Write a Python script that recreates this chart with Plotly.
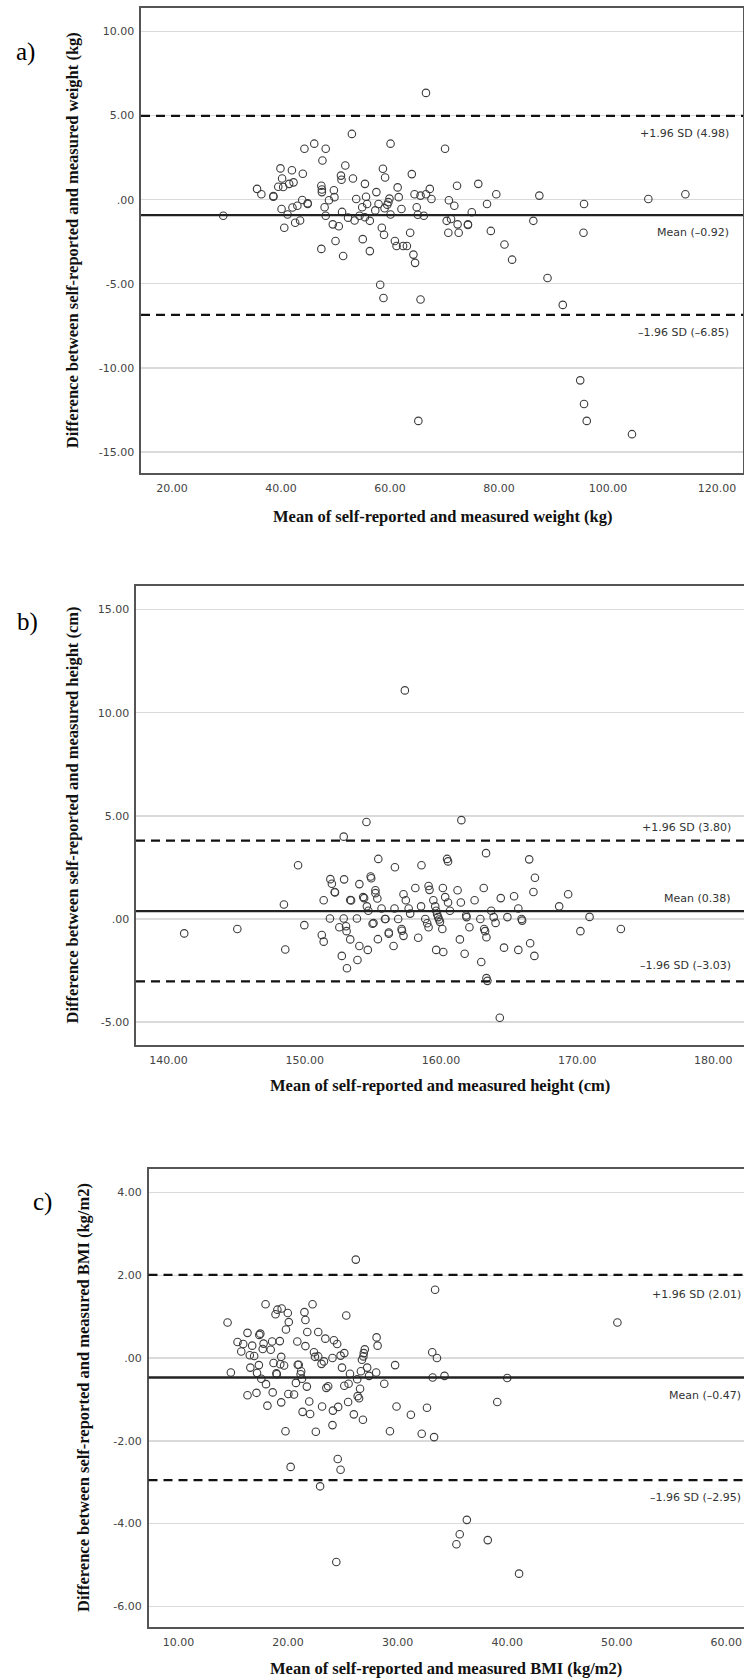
import plotly.graph_objects as go

# ---------------- Panel a: weight ----------------
wt_mean = [29.4, 35.6, 36.4, 38.6, 38.6, 39.5, 39.9, 40.2, 40.4, 40.1, 40.6, 41.2, 41.5, 42.0, 42.3,
           42.1, 43.0, 42.6, 43.5, 44.0, 44.3, 43.9, 44.9, 44.9, 46.1, 47.4, 47.4, 47.5, 47.5, 47.6,
           48.2, 48.0, 48.2, 48.8, 49.7, 49.8, 49.5, 50.0, 50.6, 51.0, 51.1, 51.2, 51.4, 51.8, 52.3,
           53.0, 53.2, 53.5, 53.8, 54.4, 54.9, 55.0, 55.4, 55.6, 55.8, 55.4, 56.3, 56.3, 57.3, 57.5,
           57.9, 58.5, 58.2, 58.7, 58.9, 58.8, 59.0, 59.1, 59.5, 59.7, 59.9, 60.1, 60.1, 60.9, 61.4,
           61.6, 61.2, 62.1, 62.4, 63.1, 63.7, 64.0, 64.3, 64.6, 64.5, 64.9, 65.1, 65.2, 65.6, 65.6,
           66.2, 66.6, 66.6, 67.3, 67.6, 70.1, 70.4, 70.8, 70.7, 71.2, 71.8, 72.3, 72.4, 72.6, 74.3,
           74.3, 75.0, 76.2, 77.8, 78.5, 79.5, 81.0, 82.4, 86.3, 87.4, 88.9, 91.7, 94.9, 95.6, 95.5,
           95.6, 96.1, 104.4, 107.4, 114.2]
wt_diff = [-0.96, 0.64, 0.32, 0.21, 0.17, 0.77, 1.86, 1.26, 0.75, -0.56, -1.67, -0.88, 0.94, 1.75, 1.03,
           -0.47, -0.36, -1.37, -1.24, 1.54, 3.03, -0.02, -0.21, -0.25, 3.33, -2.93, 0.83, 0.60, 0.45, 2.33,
           3.03, -0.45, -0.96, -0.04, 0.56, 0.15, -1.47, -2.46, -1.58, 1.43, 1.18, -0.73, -3.35, 2.03, -1.07,
           3.91, 1.26, -1.24, 0.04, -0.96, -0.45, -2.35, 0.94, 0.17, -0.26, -1.05, -1.26, -3.06, -0.64, 0.45,
           -0.26, -1.67, -5.06, 1.84, -2.09, -5.85, -0.51, 1.32, -0.30, -0.15, 0.06, 3.33, -0.88, -2.46, 0.73,
           0.15, -2.76, -0.56, -2.76, -2.76, -1.97, 1.52, -3.27, -3.76, 0.32, -0.45, -0.90, -13.16, 0.24, -5.94,
           -0.96, 6.35, 0.32, 0.64, 0.04, 3.03, -1.26, -0.04, -1.97, -1.15, -0.36, 0.83, -1.47, -1.97, -1.47,
           -1.51, -0.75, 0.94, -0.26, -1.86, 0.32, -2.67, -3.57, -1.26, 0.24, -4.66, -6.26, -10.75, -0.26, -1.97,
           -12.16, -13.16, -13.95, 0.04, 0.32]
wt_bias, wt_upper, wt_lower = -0.92, 4.98, -6.85
wt_xticks = [20, 40, 60, 80, 100, 120]
wt_xtext = ["20.00", "40.00", "60.00", "80.00", "100.00", "120.00"]
wt_yticks = [10, 5, 0, -5, -10, -15]
wt_ytext = ["10.00", "5.00", ".00", "-5.00", "-10.00", "-15.00"]

# ---------------- Panel b: height ----------------
ht_mean = [141.15, 145.05, 148.47, 148.57, 149.51, 149.97, 151.25, 151.39, 151.39, 151.85, 151.88, 151.99,
           152.20, 152.22, 152.54, 152.72, 152.86, 152.89, 152.86, 153.03, 153.07, 153.10, 153.34, 153.34,
           153.40, 153.83, 153.87, 154.01, 154.01, 154.29, 154.36, 154.53, 154.56, 154.63, 154.67, 154.84,
           154.88, 154.98, 155.05, 155.19, 155.19, 155.33, 155.37, 155.40, 155.64, 155.89, 155.93, 156.17,
           156.17, 156.52, 156.59, 156.62, 156.86, 157.11, 157.14, 157.25, 157.25, 157.35, 157.42, 157.63,
           157.74, 158.12, 158.33, 158.54, 158.57, 158.85, 158.99, 159.09, 159.16, 159.09, 159.44, 159.58,
           159.65, 159.72, 159.79, 159.86, 159.93, 159.65, 160.14, 160.10, 160.17, 160.31, 160.45, 160.52,
           160.52, 160.66, 161.22, 161.39, 161.46, 161.50, 161.74, 161.85, 161.88, 162.09, 162.47, 162.89,
           162.96, 163.14, 163.17, 163.24, 163.31, 163.34, 163.34, 163.41, 163.69, 163.87, 164.01, 164.39,
           164.32, 164.63, 164.88, 165.37, 165.68, 165.68, 165.92, 165.96, 166.48, 166.55, 166.79, 166.86,
           166.90, 168.68, 169.34, 170.24, 170.91, 173.21]
ht_diff = [-0.70, -0.49, 0.70, -1.48, 2.60, -0.30, -0.78, 0.91, -1.10, 0.02, 1.93, 1.71,
           1.31, 1.28, -0.40, -1.79, 0.02, 1.92, 3.99, -0.35, -0.59, -2.39, -0.99, 0.92,
           0.90, 0.02, -1.99, 1.69, -1.31, 1.06, 1.01, 4.70, 0.61, -1.50, 0.40, 2.06,
           1.97, -0.23, -0.20, 1.39, 1.25, 0.99, -0.98, 2.91, 0.51, 0.00, 0.00, -0.66,
           -0.72, -1.31, 0.51, 2.51, 0.00, -0.49, -0.57, -0.82, 1.20, 11.08, 0.91, 0.51,
           0.26, 1.50, -0.91, 0.61, 2.60, 0.00, -0.21, 1.60, 1.41, -0.40, 0.91, 0.61,
           0.40, 0.23, 0.09, -0.03, -0.14, -1.50, 1.50, -0.49, -1.60, 1.06, 2.91, 2.79,
           0.80, 0.40, 1.39, -0.99, 0.80, 4.79, -1.69, 0.17, 0.09, -0.40, 0.91, 0.00,
           -2.09, 1.50, -0.49, -0.59, 3.19, -0.89, -2.87, -3.00, 0.40, 0.09, -0.19, 1.01,
           -4.79, -1.39, 0.09, 1.10, 0.51, -1.50, 0.00, -0.08, 2.89, -1.18, 1.31, -1.79,
           2.00, 0.61, 1.20, -0.59, 0.10, -0.49]
ht_bias, ht_upper, ht_lower = 0.38, 3.80, -3.03
ht_xticks = [140, 150, 160, 170, 180]
ht_xtext = ["140.00", "150.00", "160.00", "170.00", "180.00"]
ht_yticks = [15, 10, 5, 0, -5]
ht_ytext = ["15.00", "10.00", "5.00", ".00", "-5.00"]

# ---------------- Panel c: BMI ----------------
bmi_mean = [14.47, 14.77, 15.38, 15.72, 15.90, 16.29, 16.29, 16.50, 16.55, 16.72, 16.90, 17.11, 17.16,
            17.33, 17.37, 17.46, 17.55, 17.68, 17.76, 17.94, 17.98, 18.11, 18.41, 18.54, 18.59, 18.67,
            18.85, 18.93, 19.02, 18.97, 19.24, 19.28, 19.37, 19.37, 19.41, 19.63, 19.76, 19.80, 19.97,
            20.06, 20.02, 20.23, 20.54, 20.71, 20.84, 20.88, 20.97, 21.14, 21.19, 21.27, 21.32, 21.49,
            21.58, 21.58, 21.71, 21.75, 21.93, 22.01, 22.23, 22.36, 22.45, 22.53, 22.75, 22.75, 22.92,
            23.05, 23.10, 23.27, 23.40, 23.49, 23.66, 24.05, 24.09, 24.05, 24.18, 24.40, 24.48, 24.53,
            24.57, 24.79, 24.79, 24.92, 25.13, 25.13, 25.31, 25.52, 25.48, 25.65, 26.00, 26.18, 26.31,
            26.35, 26.48, 26.57, 26.65, 26.74, 26.83, 26.87, 26.91, 27.00, 27.22, 27.39, 28.04, 28.08,
            28.17, 28.78, 29.30, 29.77, 29.90, 31.21, 32.20, 32.68, 33.16, 33.20, 33.33, 33.42, 33.59,
            34.28, 35.37, 35.67, 36.32, 38.23, 39.10, 40.01, 41.09, 50.07]
bmi_diff = [0.86, -0.35, 0.39, 0.16, 0.34, 0.61, -0.90, 0.07, -0.23, 0.30, 0.05, -0.84, -0.36,
            -0.17, 0.56, 0.59, -0.50, 0.22, 0.35, 1.30, -0.63, -1.15, 0.20, 0.40, -0.83, -0.12,
            1.06, -0.37, 1.17, -0.39, 0.41, -0.15, 0.03, -1.07, 1.20, -0.18, -1.77, 0.69, 1.09,
            0.87, -0.87, -2.63, -0.88, -0.60, 0.40, -0.16, -0.16, -0.39, -0.32, -0.50, -1.30, 1.11,
            0.92, 0.29, -0.69, 0.63, -1.05, -1.35, 1.30, 0.14, 0.03, -1.78, 0.63, 0.04, -3.10,
            -0.14, -1.17, -0.08, 0.47, -0.72, -0.68, 0.00, -1.27, -1.62, 0.43, -4.93, 0.34, -2.44,
            -1.18, -2.70, 0.06, -0.23, 0.12, -0.67, 1.03, -0.62, -1.06, -0.38, -1.36, 2.38, -0.51,
            -0.92, -0.97, -0.74, -0.32, -0.04, -1.49, 0.04, 0.12, 0.21, -0.23, -0.43, -0.35, 0.50,
            0.30, -0.62, -1.77, -0.17, -1.17, -1.37, -1.83, -1.20, 0.14, -0.47, -1.91, 1.65, 0.00,
            -0.43, -4.50, -4.26, -3.91, -4.40, -1.06, -0.48, -5.21, 0.86]
bmi_bias, bmi_upper, bmi_lower = -0.47, 2.01, -2.95
bmi_xticks = [10, 20, 30, 40, 50, 60]
bmi_xtext = ["10.00", "20.00", "30.00", "40.00", "50.00", "60.00"]
bmi_yticks = [4, 2, 0, -2, -4, -6]
bmi_ytext = ["4.00", "2.00", ".00", "-2.00", "-4.00", "-6.00"]

W, H = 744, 1680


def fx(px):
    return min(1.0, max(0.0, px / W))


def fy(py):
    return min(1.0, max(0.0, 1 - py / H))


def ax(px):
    return px / W


def ay(py):
    return 1 - py / H


TICK_FONT = dict(family="DejaVu Sans", size=11, color="#444444")
TITLE_FONT = dict(family="Liberation Serif", size=16.5, color="#111111")
FRAME = "#555555"
GRID = "#dadada"

panels = [
    dict(k="", x=wt_mean, y=wt_diff, bias=wt_bias, up=wt_upper, lo=wt_lower,
         xt=wt_xticks, xtt=wt_xtext, yt=wt_yticks, ytt=wt_ytext,
         xdom=[fx(141), fx(743)], ydom=[fy(473), fy(7.5)],
         xr=[14.31, 124.77], yr=[-16.26, 11.43], mirror_y=True,
         xtitle="Mean of self-reported and measured weight (kg)",
         ytitle="Difference between self-reported and measured weight (kg)",
         letter="a)", letter_xy=(25, 52), ytitle_x=72, xtitle_y=516,
         lab_x=0.980, shifts=(-17.5, -17.5, -17.5),
         labels=("+1.96 SD (4.98)", "Mean (\u20130.92)", "\u20131.96 SD (\u20136.85)")),
    dict(k="2", x=ht_mean, y=ht_diff, bias=ht_bias, up=ht_upper, lo=ht_lower,
         xt=ht_xticks, xtt=ht_xtext, yt=ht_yticks, ytt=ht_ytext,
         xdom=[fx(136), 1.0], ydom=[fy(1045), fy(586)],
         xr=[137.61, 182.25], yr=[-6.11, 16.14], mirror_y=False,
         xtitle="Mean of self-reported and measured height (cm)",
         ytitle="Difference between self-reported and measured height (cm)",
         letter="b)", letter_xy=(27, 622), ytitle_x=72, xtitle_y=1085,
         lab_x=0.982, shifts=(13, 13, 16),
         labels=("+1.96 SD (3.80)", "Mean (0.38)", "\u20131.96 SD (\u20133.03)")),
    dict(k="3", x=bmi_mean, y=bmi_diff, bias=bmi_bias, up=bmi_upper, lo=bmi_lower,
         xt=bmi_xticks, xtt=bmi_xtext, yt=bmi_yticks, ytt=bmi_ytext,
         xdom=[fx(148.5), 1.0], ydom=[fy(1627), fy(1169)],
         xr=[7.25, 61.63], yr=[-6.50, 4.57], mirror_y=False,
         xtitle="Mean of self-reported and measured BMI (kg/m2)",
         ytitle="Difference between self-reported and measured BMI (kg/m2)",
         letter="c)", letter_xy=(42, 1202), ytitle_x=83, xtitle_y=1668,
         lab_x=0.999, shifts=(-20, -17.5, -17),
         labels=("+1.96 SD (2.01)", "Mean (\u20130.47)", "\u20131.96 SD (\u20132.95)")),
]

fig = go.Figure()
shapes, annotations = [], []
layout = dict(width=W, height=H, margin=dict(l=0, r=0, t=0, b=0),
              paper_bgcolor="white", plot_bgcolor="white", showlegend=False)

for p in panels:
    k = p["k"]
    xa, ya = "x" + k, "y" + k
    fig.add_trace(go.Scatter(
        x=p["x"], y=p["y"], mode="markers", xaxis=xa, yaxis=ya,
        marker=dict(symbol="circle-open", size=7.5, color="#3c3c3c", line=dict(width=1.1)),
        hoverinfo="skip"))
    layout["xaxis" + k] = dict(
        domain=p["xdom"], anchor=ya, range=p["xr"], showgrid=False, zeroline=False,
        tickmode="array", tickvals=p["xt"], ticktext=p["xtt"], ticks="",
        tickfont=TICK_FONT, showline=True, linecolor=FRAME, linewidth=1.6, mirror=True,
        ticklabelstandoff=4, fixedrange=True)
    layout["yaxis" + k] = dict(
        domain=p["ydom"], anchor=xa, range=p["yr"], showgrid=True, gridcolor=GRID, gridwidth=1.5,
        zeroline=False, tickmode="array", tickvals=p["yt"], ticktext=p["ytt"], ticks="",
        tickfont=TICK_FONT, showline=True, linecolor=FRAME, linewidth=1.6,
        mirror=p["mirror_y"], ticklabelstandoff=3, fixedrange=True)
    # limits of agreement and mean difference
    for val, dash, wdt, col in [(p["up"], "9px,6px", 2.2, "#111111"),
                                (p["bias"], "solid", 2.4, "#222222"),
                                (p["lo"], "9px,6px", 2.2, "#111111")]:
        shapes.append(dict(type="line", xref=xa + " domain", yref=ya, x0=0, x1=1, y0=val, y1=val,
                           line=dict(color=col, width=wdt, dash=dash), layer="above"))
    for val, txt, sh in zip([p["up"], p["bias"], p["lo"]], p["labels"], p["shifts"]):
        annotations.append(dict(xref=xa + " domain", yref=ya, x=p["lab_x"], y=val, text=txt,
                                showarrow=False, xanchor="right", yanchor="middle", yshift=sh,
                                font=dict(family="DejaVu Sans", size=11, color="#333333")))
    # panel letter
    lx, ly = p["letter_xy"]
    annotations.append(dict(xref="paper", yref="paper", x=ax(lx), y=ay(ly), text=p["letter"],
                            showarrow=False, xanchor="center", yanchor="middle",
                            font=dict(family="Liberation Serif", size=25, color="black")))
    # axis titles
    annotations.append(dict(xref=xa + " domain", yref="paper", x=0.5, y=ay(p["xtitle_y"]),
                            text="<b>" + p["xtitle"] + "</b>", showarrow=False,
                            xanchor="center", yanchor="middle", font=TITLE_FONT))
    annotations.append(dict(xref="paper", yref=ya + " domain", x=ax(p["ytitle_x"]), y=0.5,
                            text="<b>" + p["ytitle"] + "</b>", showarrow=False, textangle=-90,
                            xanchor="center", yanchor="middle", font=TITLE_FONT))

layout["shapes"] = shapes
layout["annotations"] = annotations
fig.update_layout(**layout)
# remove the browser's default page margin so the 744x1680 figure fills the window exactly
fig.write_html("out.html",
               config={"displayModeBar": False, "staticPlot": True},
               post_script="document.documentElement.style.margin='0';"
                           "document.body.style.margin='0';"
                           "document.body.style.overflow='hidden';")
